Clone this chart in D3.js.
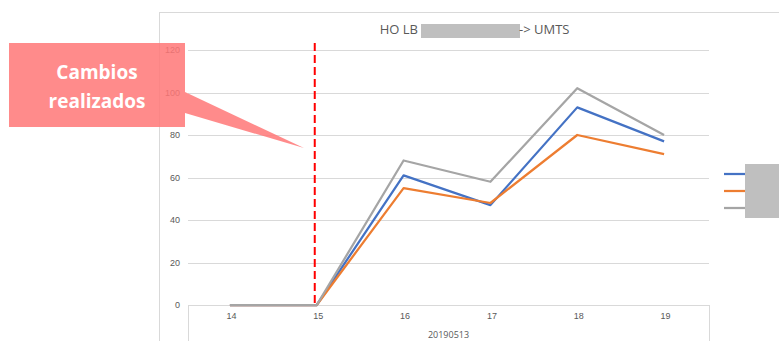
<!DOCTYPE html>
<html><head><meta charset="utf-8">
<script src="https://cdn.jsdelivr.net/npm/d3@7"></script>
<style>body{margin:0;background:#fff}svg{display:block;font-family:"Open Sans","Noto Sans",sans-serif}</style>
</head><body>
<svg id="chart" width="779" height="341"></svg>
<script>
const categories = ["14", "15", "16", "17", "18", "19"];
const groupLabel = "20190513";
const seriesA = [0, 0, 61, 47, 93, 77];
const seriesB = [0, 0, 55, 48, 80, 71];
const seriesC = [0, 0, 68, 58, 102, 80];
const yTicks = [0, 20, 40, 60, 80, 100, 120];
const changeAt = "15";

const svg = d3.select("#chart");
const W = 779, H = 341;
const m = {left: 188, right: 709, top: 50, bottom: 305};

// outer chart frame (left and top edges)
svg.append("line").attr("x1", 159.5).attr("x2", 159.5).attr("y1", 12).attr("y2", H).attr("stroke", "#d9d9d9");
svg.append("line").attr("x1", 159).attr("x2", W).attr("y1", 12.5).attr("y2", 12.5).attr("stroke", "#d9d9d9");

const x = d3.scaleBand().domain(categories).range([m.left, m.right]);
const y = d3.scaleLinear().domain([0, 120]).range([m.bottom, m.top]);

// gridlines
svg.append("g").selectAll("line").data(yTicks.filter(d => d > 0)).join("line")
  .attr("x1", m.left).attr("x2", m.right)
  .attr("y1", d => Math.round(y(d)) + 0.5).attr("y2", d => Math.round(y(d)) + 0.5)
  .attr("stroke", "#d9d9d9").attr("stroke-width", 1);

// y axis labels
const yAxis = d3.axisLeft(y).tickValues(yTicks).tickSize(0).tickPadding(8);
const gy = svg.append("g").attr("transform", `translate(${m.left},0)`).call(yAxis);
gy.select(".domain").remove();
gy.selectAll("text").attr("fill", "#595959").style("font-size", "9px");

// x axis (category row plus group row)
const xAxis = d3.axisBottom(x).tickSize(0).tickPadding(8);
const gx = svg.append("g").attr("transform", `translate(0,${m.bottom})`).call(xAxis);
gx.select(".domain").attr("stroke", "#d9d9d9");
gx.selectAll("text").attr("fill", "#595959").style("font-size", "9px");
[m.left, m.right].forEach(px => {
  svg.append("line").attr("x1", px + 0.5).attr("x2", px + 0.5).attr("y1", m.bottom).attr("y2", H)
    .attr("stroke", "#d9d9d9");
});
svg.append("text").attr("x", (m.left + m.right) / 2).attr("y", 338).attr("text-anchor", "middle")
  .attr("fill", "#595959").style("font-size", "9px").text(groupLabel);

// title with redacted middle part
const title = svg.append("g");
title.append("text").attr("x", 418).attr("y", 34).attr("text-anchor", "end")
  .attr("fill", "#595959").style("font-size", "13px").text("HO LB");
title.append("rect").attr("x", 421).attr("y", 24).attr("width", 99).attr("height", 14).attr("fill", "#bfbfbf");
title.append("text").attr("x", 519).attr("y", 34).attr("fill", "#595959").style("font-size", "13px").text("-> UMTS");

// series lines
const line = d3.line().x((d, i) => x(categories[i]) + x.bandwidth() / 2 - 1.5).y(d => y(d));
const series = [
  {values: seriesA, color: "#4472C4"},
  {values: seriesB, color: "#ED7D31"},
  {values: seriesC, color: "#A5A5A5"}
];
svg.append("g").selectAll("path").data(series).join("path")
  .attr("d", d => line(d.values)).attr("fill", "none")
  .attr("stroke", d => d.color).attr("stroke-width", 2.25).attr("stroke-linejoin", "round");

// marker for change date
const cx = x(changeAt) + x.bandwidth() / 2 - 3.5;
svg.append("line").attr("x1", cx).attr("x2", cx).attr("y1", 43).attr("y2", m.bottom)
  .attr("stroke", "#ff0000").attr("stroke-width", 2).attr("stroke-dasharray", "8,4");

// legend
const lg = svg.append("g");
series.forEach((s, i) => {
  lg.append("line").attr("x1", 724).attr("x2", 746).attr("y1", 174 + i * 17).attr("y2", 174 + i * 17)
    .attr("stroke", s.color).attr("stroke-width", 2.25);
});
lg.append("rect").attr("x", 745).attr("y", 164).attr("width", 34).attr("height", 54).attr("fill", "#bfbfbf");

// callout
svg.append("path")
  .attr("d", "M9,43 H185 V92 L304,148 L185,113 V127 H9 Z")
  .attr("fill", "#ff7777").attr("fill-opacity", 0.85);
const ct = svg.append("text").attr("text-anchor", "middle").attr("fill", "#fff")
  .style("font-size", "19px").style("font-weight", "bold");
ct.append("tspan").attr("x", 97).attr("y", 79).text("Cambios");
ct.append("tspan").attr("x", 97).attr("y", 108).text("realizados");
</script>
</body></html>
